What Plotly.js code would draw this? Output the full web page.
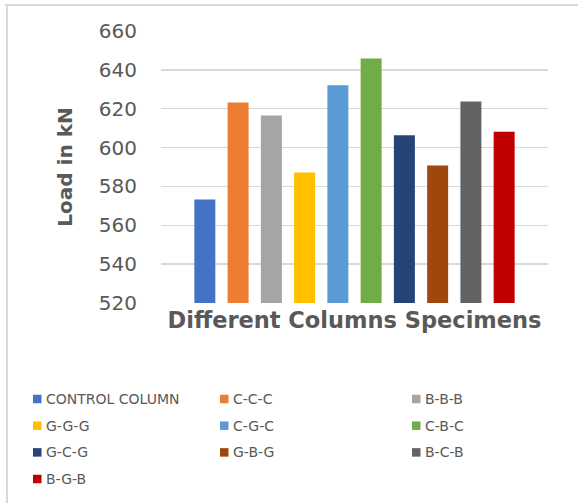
<!DOCTYPE html>
<html>
<head>
<meta charset="utf-8">
<script src="https://cdn.plot.ly/plotly-3.0.1.min.js"></script>
<style>
html,body{margin:0;padding:0;background:#fff;}
#chart{width:578px;height:503px;}
</style>
</head>
<body>
<div id="chart"></div>
<script>
// ---- data ----
var specimens = ["CONTROL COLUMN","C-C-C","B-B-B","G-G-G","C-G-C","C-B-C","G-C-G","G-B-G","B-C-B","B-G-B"];
var loads = [573.3, 623.2, 616.5, 587.2, 632.1, 645.8, 606.4, 590.8, 623.7, 608.1];
var colors = ["#4472C4","#ED7D31","#A5A5A5","#FFC000","#5B9BD5","#70AD47","#264478","#9E480E","#636363","#C00000"];
var category = ["Specimens"];
var yTicks = [520, 540, 560, 580, 600, 620, 640, 660];

// ---- layout geometry (pixels) ----
var W = 578, H = 503;
var M = {l:161, r:30, t:31, b:200};
var PW = W - M.l - M.r, PH = H - M.t - M.b;
function px2x(px){ return (px - M.l) / PW; }
function py2y(py){ return (H - M.b - py) / PH; }

var traces = specimens.map(function(name, i){
  return {
    type: 'bar',
    name: name,
    x: category,
    y: [loads[i]],
    marker: {color: colors[i]},
    showlegend: false,
    hoverinfo: 'name+y'
  };
});

// custom legend (3 columns) built from the arrays
var colLeft = [33, 220, 412];
var rowY = [399, 425.7, 452.4, 479];
var shapes = [];
var annotations = [];
specimens.forEach(function(name, i){
  var c = i % 3, r = Math.floor(i / 3);
  var mx = colLeft[c], my = rowY[r];
  shapes.push({
    type:'rect', xref:'paper', yref:'paper', layer:'above',
    x0: px2x(mx), x1: px2x(mx + 8.5),
    y0: py2y(my + 4.25), y1: py2y(my - 4.25),
    fillcolor: colors[i], line:{width:0}
  });
  annotations.push({
    xref:'paper', yref:'paper', x: px2x(mx + 11), y: py2y(my),
    xanchor:'left', yanchor:'middle', showarrow:false,
    text: name, font:{family:'DejaVu Sans', size:14, color:'#595959'}
  });
});

// chart area border (top and left edges visible)
shapes.push({type:'line', xref:'paper', yref:'paper', layer:'below',
  x0: px2x(5), x1: px2x(580), y0: py2y(5), y1: py2y(5),
  line:{color:'#d9d9d9', width:2}});
shapes.push({type:'line', xref:'paper', yref:'paper', layer:'below',
  x0: px2x(7), x1: px2x(7), y0: py2y(5), y1: py2y(510),
  line:{color:'#d9d9d9', width:2}});

var layout = {
  width: W, height: H,
  margin: M,
  paper_bgcolor: '#ffffff',
  plot_bgcolor: '#ffffff',
  barmode: 'group',
  bargap: 0.1406,
  bargroupgap: 0.369,
  showlegend: false,
  font: {family:'DejaVu Sans', color:'#595959'},
  xaxis: {
    type: 'category',
    showticklabels: false,
    ticks: '',
    showgrid: false,
    showline: false,
    zeroline: false,
    automargin: false,
    title: {text: 'Different Columns Specimens', standoff: 9,
            font: {family:'DejaVu Sans', size:22.5, color:'#595959', weight:'bold'}}
  },
  yaxis: {
    range: [520, 660],
    tickvals: yTicks,
    ticktext: yTicks.map(String),
    ticks: '',
    ticklabelstandoff: 23,
    showgrid: true,
    gridcolor: '#d9d9d9',
    gridwidth: 1.5,
    zeroline: false,
    showline: false,
    automargin: false,
    tickfont: {family:'DejaVu Sans', size:20, color:'#595959'},
    title: {text: 'Load in kN', standoff: 20,
            font: {family:'DejaVu Sans', size:20, color:'#595959', weight:'bold'}}
  },
  shapes: shapes,
  annotations: annotations
};

Plotly.newPlot('chart', traces, layout, {displayModeBar:false, staticPlot:true});
</script>
</body>
</html>
